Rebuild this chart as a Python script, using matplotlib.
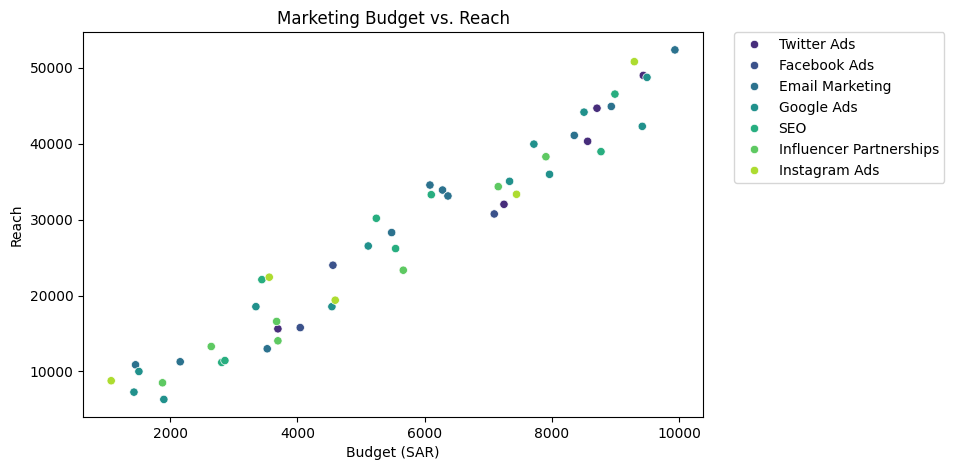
import matplotlib
matplotlib.use("Agg")
import matplotlib.pyplot as plt
import seaborn as sns
import pandas as pd

channels = ["Twitter Ads", "Facebook Ads", "Email Marketing", "Google Ads",
            "SEO", "Influencer Partnerships", "Instagram Ads"]

twitter_budget = [3693, 7247, 8562, 8709, 9437]
twitter_reach = [15620, 32020, 40320, 44680, 49000]
facebook_budget = [4044, 4558, 7094]
facebook_reach = [15780, 24000, 30750]
email_budget = [1455, 2157, 3525, 5481, 6083, 6281, 6366, 8352, 8934, 9934]
email_reach = [10880, 11280, 12990, 28300, 34560, 33900, 33120, 41100, 44910, 52360]
google_budget = [1508, 1430, 1900, 3347, 4542, 5113, 7335, 7963, 7717, 8505, 9495, 9421]
google_reach = [10000, 7280, 6320, 18540, 18540, 26530, 35050, 35970, 39950, 44160, 48740, 42290]
seo_budget = [2810, 2860, 3441, 5543, 5240, 6104, 8772, 8991]
seo_reach = [11190, 11440, 22100, 26190, 30180, 33290, 38960, 46540]
influencer_budget = [1879, 2645, 3673, 3693, 5664, 7157, 7906]
influencer_reach = [8510, 13290, 16590, 14040, 23340, 34350, 38290]
instagram_budget = [1072, 3557, 4594, 7444, 9296]
instagram_reach = [8780, 22420, 19390, 33340, 50810]

budgets = [twitter_budget, facebook_budget, email_budget, google_budget,
           seo_budget, influencer_budget, instagram_budget]
reaches = [twitter_reach, facebook_reach, email_reach, google_reach,
           seo_reach, influencer_reach, instagram_reach]

rows = []
for ch, bs, rs in zip(channels, budgets, reaches):
    for b, r in zip(bs, rs):
        rows.append({"Budget": b, "Reach": r, "Channel": ch})
df = pd.DataFrame(rows)

fig, ax = plt.subplots(figsize=(9.54, 4.7), dpi=100)
fig.subplots_adjust(left=0.087, right=0.737, top=0.931, bottom=0.113)
sns.scatterplot(data=df, x="Budget", y="Reach", hue="Channel",
                hue_order=channels, palette="viridis", ax=ax)
ax.set_title("Marketing Budget vs. Reach")
ax.set_xlabel("Budget (SAR)")
ax.set_ylabel("Reach")
ax.legend(bbox_to_anchor=(1.05, 1), loc="upper left", borderaxespad=0)
fig.savefig("out.png")
